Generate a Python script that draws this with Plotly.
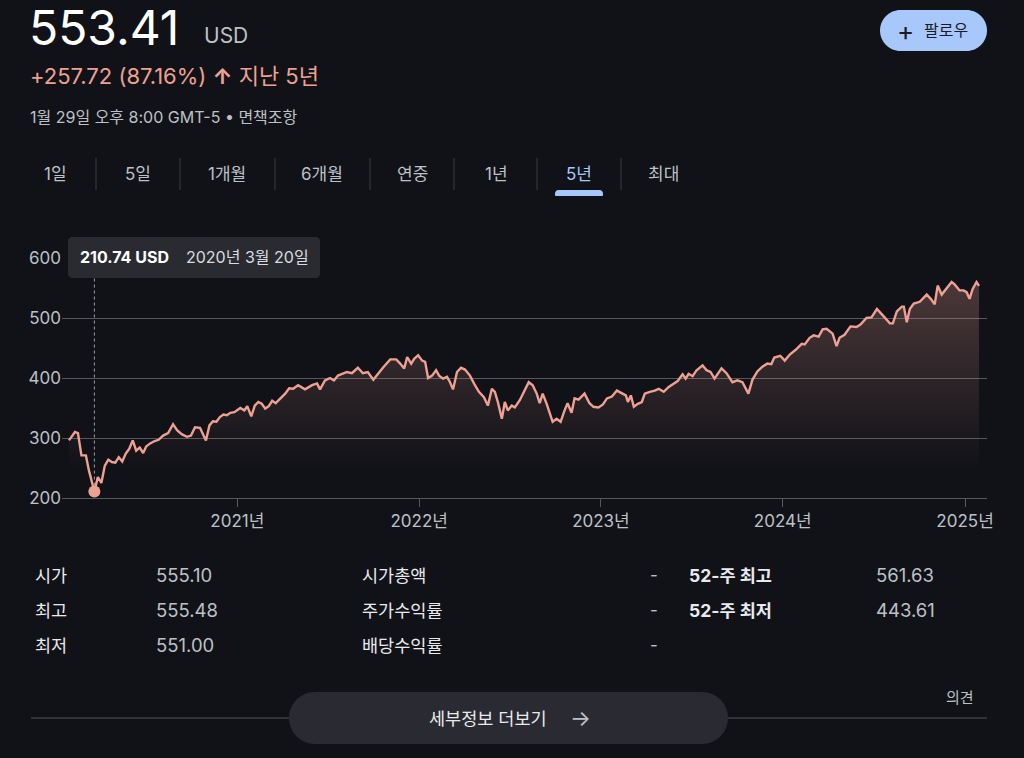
import plotly.graph_objects as go

W, H = 1024, 758
BG = '#111218'
LINE = '#eea193'
GRID = '#55575c'
SEP = '#393a40'
TXT = '#e8eaed'
SUB = '#bdc1c6'
BLUE = '#a8c7fa'
FONT = "Inter, 'Noto Sans CJK KR', sans-serif"

# ---------------- data ----------------
dates = [
    '2020-01-29', '2020-02-10', '2020-02-16', '2020-02-23', '2020-03-03', '2020-03-09', '2020-03-20',
    '2020-03-27', '2020-04-03', '2020-04-10', '2020-04-17', '2020-04-24', '2020-05-01', '2020-05-08',
    '2020-05-15', '2020-05-22', '2020-05-29', '2020-06-05', '2020-06-12', '2020-06-19', '2020-06-26',
    '2020-07-02', '2020-07-10', '2020-07-19', '2020-07-27', '2020-08-05', '2020-08-15', '2020-08-25',
    '2020-09-02', '2020-09-12', '2020-09-22', '2020-09-30', '2020-10-08', '2020-10-18', '2020-10-30',
    '2020-11-06', '2020-11-13', '2020-11-20', '2020-11-27', '2020-12-04', '2020-12-11', '2020-12-18',
    '2020-12-26',
    '2021-01-07', '2021-01-15', '2021-01-21', '2021-01-29', '2021-02-05', '2021-02-12', '2021-02-19',
    '2021-02-26', '2021-03-05', '2021-03-12', '2021-03-19', '2021-03-26', '2021-04-07', '2021-04-15',
    '2021-04-23', '2021-05-03', '2021-05-17', '2021-05-31', '2021-06-10', '2021-06-16', '2021-06-26',
    '2021-07-06', '2021-07-14', '2021-07-22', '2021-08-01', '2021-08-09', '2021-08-19', '2021-08-31',
    '2021-09-10', '2021-09-20', '2021-10-01', '2021-10-09', '2021-10-21', '2021-11-04', '2021-11-16',
    '2021-11-24', '2021-12-02', '2021-12-08', '2021-12-16', '2021-12-22', '2021-12-30',
    '2022-01-07', '2022-01-13', '2022-01-19', '2022-01-27', '2022-02-04', '2022-02-10', '2022-02-18',
    '2022-02-26', '2022-03-04', '2022-03-10', '2022-03-18', '2022-03-26', '2022-04-03', '2022-04-13',
    '2022-04-23', '2022-05-01', '2022-05-11', '2022-05-19', '2022-05-27', '2022-06-02', '2022-06-08',
    '2022-06-16', '2022-06-22', '2022-06-28', '2022-07-06', '2022-07-12', '2022-07-22', '2022-08-01',
    '2022-08-09', '2022-08-17', '2022-08-25', '2022-08-31', '2022-09-06', '2022-09-14', '2022-09-20',
    '2022-09-26', '2022-10-04', '2022-10-12', '2022-10-20', '2022-10-26', '2022-11-03', '2022-11-09',
    '2022-11-17', '2022-11-29', '2022-12-09', '2022-12-17', '2022-12-27',
    '2023-01-05', '2023-01-13', '2023-01-23', '2023-02-02', '2023-02-12', '2023-02-20', '2023-02-24',
    '2023-03-02', '2023-03-08', '2023-03-16', '2023-03-24', '2023-03-30', '2023-04-09', '2023-04-19',
    '2023-04-27', '2023-05-07', '2023-05-17', '2023-05-27', '2023-06-04', '2023-06-14', '2023-06-20',
    '2023-06-26', '2023-07-04', '2023-07-12', '2023-07-24', '2023-08-01', '2023-08-09', '2023-08-17',
    '2023-08-31', '2023-09-10', '2023-09-22', '2023-10-02', '2023-10-12', '2023-10-24', '2023-11-01',
    '2023-11-11', '2023-11-21', '2023-12-01', '2023-12-09', '2023-12-15', '2023-12-27',
    '2024-01-05', '2024-01-15', '2024-01-27', '2024-02-08', '2024-02-14', '2024-02-24', '2024-03-03',
    '2024-03-13', '2024-03-21', '2024-03-29', '2024-04-10', '2024-04-18', '2024-04-24', '2024-05-04',
    '2024-05-16', '2024-05-28', '2024-06-05', '2024-06-17', '2024-06-27', '2024-07-08', '2024-07-18',
    '2024-07-28', '2024-08-03', '2024-08-09', '2024-08-17', '2024-08-27', '2024-08-31', '2024-09-06',
    '2024-09-12', '2024-09-20', '2024-10-02', '2024-10-16', '2024-10-24', '2024-11-01', '2024-11-07',
    '2024-11-15', '2024-11-25', '2024-12-05', '2024-12-11', '2024-12-21', '2024-12-29',
    '2025-01-04', '2025-01-10', '2025-01-16', '2025-01-24', '2025-01-29',
]
prices = [
    296, 310, 308, 271, 271, 246, 210.74,
    235, 225, 254, 264, 260, 259, 268,
    261, 274, 282, 296, 279, 284, 275,
    286, 291, 295, 297, 304, 308, 323,
    313, 306, 302, 304, 318, 317, 296,
    321, 328, 327, 335, 339, 338, 342,
    343,
    350, 346, 353, 336, 354, 360, 357,
    349, 353, 362, 358, 364, 374, 383,
    382, 388, 381, 388, 391, 381, 396,
    400, 396, 404, 407, 410, 408, 417,
    408, 410, 397, 406, 418, 431, 431,
    424, 416, 435, 424, 432, 438,
    429, 427, 400, 404, 413, 404, 399,
    402, 393, 381, 410, 417, 414, 404,
    388, 377, 368, 354, 382, 377, 360,
    332, 360, 346, 354, 351, 363, 379,
    393, 388, 374, 358, 374, 357, 343,
    327, 332, 327, 346, 358, 342, 366,
    364, 374, 358, 352, 351,
    356, 366, 369, 379, 375, 371, 360,
    371, 352, 357, 360, 374, 377, 379,
    382, 377, 385, 391, 395, 406, 399,
    407, 403, 413, 421, 413, 410, 399,
    416, 408, 393, 396, 393, 374, 397,
    411, 419, 424, 423, 434, 437,
    429, 439, 447, 457, 456, 467, 471,
    469, 481, 482, 474, 453, 467, 472,
    486, 485, 489, 500, 501, 515, 506,
    497, 491, 491, 511, 519, 519, 493,
    515, 524, 527, 539, 532, 523, 554,
    539, 550, 560, 556, 546, 546,
    543, 532, 548, 560, 553.41,
]

price_now = 553.41
currency = 'USD'
change_abs = 257.72
change_pct = 87.16
period_label = '지난 5년'
timestamp = '1월 29일 오후 8:00 GMT-5 • 면책조항'
tabs = ['1일', '5일', '1개월', '6개월', '연중', '1년', '5년', '최대']
active_tab = '5년'
year_ticks = ['2021-01-01', '2022-01-01', '2023-01-01', '2024-01-01', '2025-01-01']
year_labels = ['2021년', '2022년', '2023년', '2024년', '2025년']
y_ticks = [200, 300, 400, 500, 600]
stat_labels_1 = ['시가', '최고', '최저']
stat_values_1 = ['555.10', '555.48', '551.00']
stat_labels_2 = ['시가총액', '주가수익률', '배당수익률']
stat_values_2 = ['-', '-', '-']
stat_labels_3 = ['52-주 최고', '52-주 최저']
stat_values_3 = ['561.63', '443.61']

# ---------------- helpers (layout in pixels -> paper) ----------------
def PX(x):
    return x / W

def PY(y):
    return 1 - y / H

def rounded(x0, y0, x1, y1, r):
    k = 0.5523 * r
    pts = [
        ('M', [(x0 + r, y0)]),
        ('L', [(x1 - r, y0)]),
        ('C', [(x1 - r + k, y0), (x1, y0 + r - k), (x1, y0 + r)]),
        ('L', [(x1, y1 - r)]),
        ('C', [(x1, y1 - r + k), (x1 - r + k, y1), (x1 - r, y1)]),
        ('L', [(x0 + r, y1)]),
        ('C', [(x0 + r - k, y1), (x0, y1 - r + k), (x0, y1 - r)]),
        ('L', [(x0, y0 + r)]),
        ('C', [(x0, y0 + r - k), (x0 + r - k, y0), (x0 + r, y0)]),
    ]
    s = ''
    for cmd, ps in pts:
        s += cmd + ' ' + ' '.join(f'{PX(a):.5f},{PY(b):.5f}' for a, b in ps) + ' '
    return s + 'Z'

def label(x, y, text, size, color, anchor='left', family=FONT):
    return dict(xref='paper', yref='paper', x=PX(x), y=PY(y), xanchor=anchor, yanchor='middle',
                text=text, showarrow=False, borderpad=0, font=dict(family=family, size=size, color=color))

fig = go.Figure()

fig.add_trace(go.Scatter(
    x=dates, y=prices, mode='lines',
    line=dict(color=LINE, width=2.4, shape='linear'),
    fill='tozeroy',
    fillgradient=dict(type='vertical', start=250, stop=565,
                      colorscale=[[0, 'rgba(238,161,147,0)'], [1, 'rgba(238,161,147,0.27)']]),
    hoverinfo='skip', showlegend=False,
))

i_min = prices.index(min(prices))
min_date, min_val = dates[i_min], prices[i_min]
fig.add_trace(go.Scatter(
    x=[min_date], y=[min_val], mode='markers',
    marker=dict(color=LINE, size=12, line=dict(width=0)),
    hoverinfo='skip', showlegend=False,
))

shapes = []
annotations = []

# dashed crosshair
shapes.append(dict(type='line', xref='x', yref='y', x0=min_date, x1=min_date, y0=min_val, y1=566,
                   line=dict(color='#9aa0a6', width=1, dash='dot'), layer='below'))
# tooltip box
shapes.append(dict(type='path', xref='paper', yref='paper', path=rounded(68, 237, 320, 278, 4),
                   fillcolor='#2a2b30', line=dict(width=0)))
y_, m_, d_ = min_date.split('-')
annotations.append(label(79, 257.5, f'<b>{min_val:.2f} {currency}</b>', 16, '#ffffff'))
annotations.append(label(185, 257.5, f'{int(y_)}년 {int(m_)}월 {int(d_)}일', 16, '#dadce0'))

# header
annotations.append(label(28, 27, f'{price_now:.2f}', 48, '#ffffff'))
annotations.append(label(203, 35, currency, 21, SUB))
annotations.append(label(29, 76, f'+{change_abs:.2f} ({change_pct:.2f}%) <b>↑</b> {period_label}', 22, LINE))
annotations.append(label(29, 117, timestamp, 16, SUB))

# follow button
shapes.append(dict(type='path', xref='paper', yref='paper', path=rounded(880, 10, 987, 51, 20.5),
                   fillcolor=BLUE, line=dict(width=0)))
annotations.append(label(905, 30, '+', 26, '#1a1c24', anchor='center'))
annotations.append(label(946, 30.5, '팔로우', 16, '#1a1c24', anchor='center'))

# tabs
TAB_X = [55, 138, 227, 322, 412, 496, 579, 663]
SEP_X = [96, 180, 275, 370, 454, 537, 621]
for t, tx in zip(tabs, TAB_X):
    annotations.append(label(tx, 174, t, 17, BLUE if t == active_tab else SUB, anchor='center'))
for sx in SEP_X:
    shapes.append(dict(type='line', xref='paper', yref='paper', x0=PX(sx), x1=PX(sx), y0=PY(158), y1=PY(190),
                       line=dict(color=SEP, width=1)))
ai = tabs.index(active_tab)
shapes.append(dict(type='path', xref='paper', yref='paper',
                   path=rounded(TAB_X[ai] - 24, 190, TAB_X[ai] + 24, 198, 3.5),
                   fillcolor=BLUE, line=dict(width=0)))
shapes.append(dict(type='rect', xref='paper', yref='paper', x0=PX(TAB_X[ai] - 25), x1=PX(TAB_X[ai] + 25),
                   y0=PY(202), y1=PY(196), fillcolor=BG, line=dict(width=0)))

# stats
ROW_Y = [575, 610, 645]
for lab, val, yy in zip(stat_labels_1, stat_values_1, ROW_Y):
    annotations.append(label(34, yy, lab, 17.5, TXT))
    annotations.append(label(155, yy, val, 18.5, SUB))
for lab, val, yy in zip(stat_labels_2, stat_values_2, ROW_Y):
    annotations.append(label(361, yy, lab, 17.5, TXT))
    annotations.append(label(659, yy, val, 17, SUB, anchor='right'))
for lab, val, yy in zip(stat_labels_3, stat_values_3, ROW_Y):
    annotations.append(label(688, yy, f'<b>{lab}</b>', 17.5, TXT))
    annotations.append(label(875, yy, val, 18.5, SUB))

# bottom
shapes.append(dict(type='line', xref='paper', yref='paper', x0=PX(31), x1=PX(987), y0=PY(718), y1=PY(718),
                   line=dict(color='#3c3d42', width=1.5)))
shapes.append(dict(type='path', xref='paper', yref='paper', path=rounded(289, 692, 728, 744, 26),
                   fillcolor='#2a2b32', line=dict(width=0)))
annotations.append(label(488, 718, '세부정보 더보기', 17.5, TXT, anchor='center'))
annotations.append(label(580, 718, '→', 22, SUB, anchor='center'))
annotations.append(label(960, 697, '의견', 15, SUB, anchor='center'))

fig.update_layout(
    width=W, height=H,
    margin=dict(l=0, r=0, t=0, b=0),
    paper_bgcolor=BG, plot_bgcolor=BG,
    showlegend=False, hovermode=False,
    shapes=shapes, annotations=annotations,
    xaxis=dict(
        domain=[PX(62), PX(987)], range=['2020-01-15', '2025-02-14'],
        tickvals=year_ticks, ticktext=year_labels,
        showgrid=False, zeroline=False,
        showline=True, linecolor=GRID, linewidth=1,
        ticks='outside', ticklen=8, tickcolor=GRID, tickwidth=1,
        tickfont=dict(family=FONT, size=17, color=SUB),
        automargin=False, fixedrange=True,
    ),
    yaxis=dict(
        domain=[PY(498), PY(258)], range=[200, 600],
        tickvals=y_ticks, ticktext=[str(v) for v in y_ticks],
        showgrid=True, gridcolor=GRID, gridwidth=1,
        zeroline=False, showline=False, ticks='',
        tickfont=dict(family=FONT, size=17, color=SUB),
        automargin=False, fixedrange=True,
    ),
)

fig.write_html('out.html')
